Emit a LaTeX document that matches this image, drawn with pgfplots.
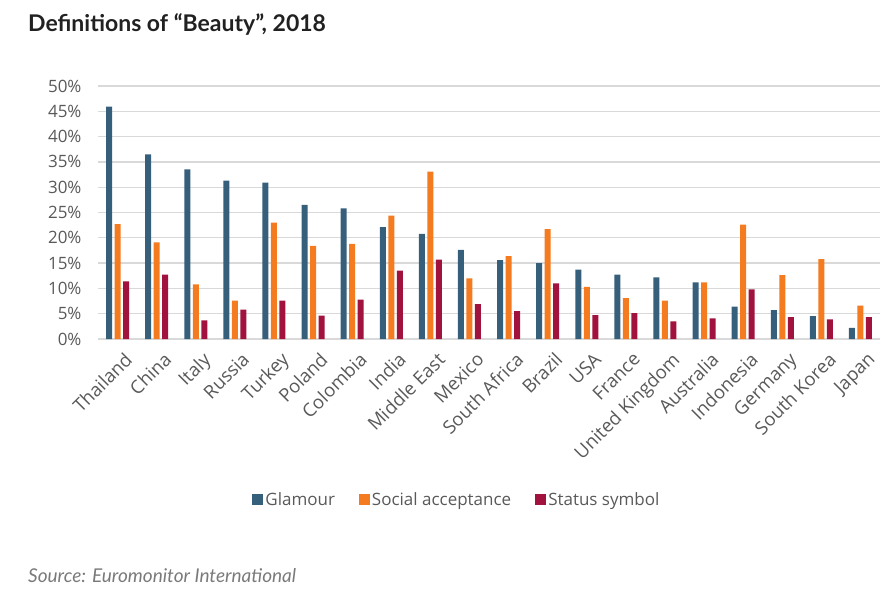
\documentclass[border=0pt]{standalone}
\usepackage{fontspec}
\setmainfont{Open Sans}
\newfontfamily\titlefont{Lato}
\usepackage{pgfplots}
\pgfplotsset{compat=1.18}
\definecolor{cGl}{HTML}{355F7B}
\definecolor{cSo}{HTML}{F47B20}
\definecolor{cSt}{HTML}{A2123F}
\definecolor{cTxt}{HTML}{595959}
\definecolor{cGrid}{HTML}{D9D9D9}
\begin{document}
\begin{tikzpicture}
\path[use as bounding box] (-98pt,-258pt) rectangle (795pt,339pt);
\begin{axis}[
  scale only axis, width=782pt, height=253pt,
  at={(0pt,0pt)}, anchor=south west,
  ybar=2.5pt, bar width=6pt,
  xmin=-0.5, xmax=19.5, ymin=0, ymax=50,
  axis line style={draw=none},
  ytick={0,5,...,50},
  yticklabel={\pgfmathprintnumber{\tick}\%},
  /pgf/number format/assume math mode=true,
  ymajorgrids, grid style={cGrid, line width=1.3pt},
  major tick length=0pt,
  xtick={0,...,19},
  xticklabels={Thailand,China,Italy,Russia,Turkey,Poland,Colombia,India,Middle East,Mexico,South Africa,Brazil,USA,France,United Kingdom,Australia,Indonesia,Germany,South Korea,Japan},
  xticklabel style={xshift=6pt, yshift=-12pt, rotate=45, anchor=north east, inner sep=0pt, font=\fontsize{18.5}{20}\selectfont, text=cTxt},
  yticklabel style={font=\fontsize{17}{19}\selectfont, text=cTxt, xshift=-13pt},
  legend style={draw=none, fill=none, at={(0.459,-0.636)}, anchor=center, legend columns=3,
    font=\fontsize{17}{19}\selectfont, text=cTxt, /tikz/every even column/.append style={column sep=22pt},
    /tikz/every odd column/.append style={column sep=0pt}},
  legend image code/.code={\fill[#1] (0pt,-5.5pt) rectangle (11pt,5.5pt);},
  every axis plot/.append style={draw=none},
]
\addplot[fill=cGl] coordinates {(0,45.9)(1,36.5)(2,33.5)(3,31.3)(4,30.9)(5,26.5)(6,25.8)(7,22.1)(8,20.8)(9,17.6)(10,15.6)(11,15.0)(12,13.7)(13,12.7)(14,12.2)(15,11.2)(16,6.4)(17,5.7)(18,4.5)(19,2.2)};
\addplot[fill=cSo] coordinates {(0,22.7)(1,19.1)(2,10.8)(3,7.6)(4,23.0)(5,18.4)(6,18.8)(7,24.4)(8,33.1)(9,12.0)(10,16.4)(11,21.7)(12,10.3)(13,8.1)(14,7.6)(15,11.2)(16,22.6)(17,12.6)(18,15.8)(19,6.6)};
\addplot[fill=cSt] coordinates {(0,11.4)(1,12.7)(2,3.7)(3,5.8)(4,7.6)(5,4.6)(6,7.8)(7,13.5)(8,15.7)(9,6.9)(10,5.5)(11,11.0)(12,4.7)(13,5.1)(14,3.5)(15,4.1)(16,9.8)(17,4.3)(18,3.9)(19,4.3)};
\legend{Glamour,Social acceptance,Status symbol}
\end{axis}
\node[anchor=base west, inner sep=0pt, font=\titlefont\bfseries\fontsize{23}{27}\selectfont, text=black!87] at (-70pt,307pt) {Definitions of “Beauty”, 2018};
\node[anchor=base west, inner sep=0pt, font=\titlefont\itshape\fontsize{19}{23}\selectfont, text=black!52] at (-70pt,-243pt) {Source: Euromonitor International};
\end{tikzpicture}
\end{document}
